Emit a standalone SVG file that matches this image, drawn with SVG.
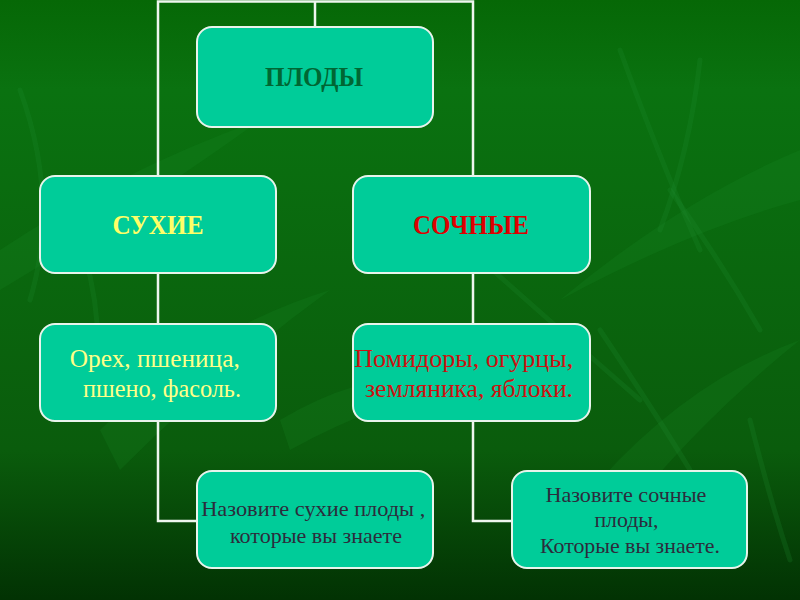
<svg xmlns="http://www.w3.org/2000/svg" width="800" height="600" viewBox="0 0 800 600">
  <defs>
    <linearGradient id="bg" x1="0" y1="0" x2="0" y2="1">
      <stop offset="0" stop-color="#066806"/>
      <stop offset="0.15" stop-color="#0a7210"/>
      <stop offset="0.75" stop-color="#0a5c0c"/>
      <stop offset="1" stop-color="#023203"/>
    </linearGradient>
    <style>
      .box { fill: #00cc99; stroke: #e8f4ec; stroke-width: 2; }
      .conn { fill: none; stroke: #eef6ee; stroke-width: 2.5; }
      .leaf { fill: #1b8a2a; opacity: 0.2; }
      .blade { fill: none; stroke: #1f8f30; stroke-width: 5; opacity: 0.22; stroke-linecap: round; }
      text { font-family: "Liberation Serif", "Times New Roman", serif; text-anchor: middle; }
      .title { font-size: 27px; font-weight: bold; }
      .body { font-size: 26px; }
      .small { font-size: 22px; fill: #2c2c3c; }
      .small2 { font-size: 21px; fill: #2c2c3c; }
    </style>
  </defs>

  <!-- background -->
  <rect width="800" height="600" fill="url(#bg)"/>
  <g id="background-leaves">
    <path class="leaf" d="M0 250 Q120 170 260 120 Q150 200 0 290 Z"/>
    <path class="leaf" d="M100 430 Q200 330 330 290 Q220 370 120 470 Z"/>
    <path class="leaf" d="M800 150 Q680 200 560 300 Q690 230 800 200 Z"/>
    <path class="leaf" d="M600 480 Q690 380 800 340 Q700 420 620 520 Z"/>
    <path class="leaf" d="M280 420 Q380 360 480 380 Q380 400 290 450 Z"/>
    <path class="blade" d="M620 50 Q660 160 700 250"/>
    <path class="blade" d="M670 190 Q720 260 760 330"/>
    <path class="blade" d="M700 60 Q690 150 660 230"/>
    <path class="blade" d="M600 330 Q660 420 690 470"/>
    <path class="blade" d="M20 90 Q60 200 30 300"/>
    <path class="blade" d="M80 240 Q110 330 90 420"/>
    <path class="blade" d="M470 250 Q560 330 640 400"/>
    <path class="blade" d="M750 420 Q770 500 790 560"/>
  </g>

  <!-- connectors -->
  <g id="connectors">
    <path class="conn" d="M315 27 V1.5"/>
    <path class="conn" d="M197 521 H158 V1.5 H473 V521 H512"/>
  </g>

  <!-- nodes -->
  <g id="node-plody">
    <rect class="box" x="197" y="27" width="236" height="100" rx="15"/>
    <text class="title" x="314" y="86" fill="#006633" textLength="98" lengthAdjust="spacingAndGlyphs">ПЛОДЫ</text>
  </g>
  <g id="node-sukhie">
    <rect class="box" x="40" y="176" width="236" height="97" rx="15"/>
    <text class="title" x="158" y="234" fill="#ffff66" textLength="91" lengthAdjust="spacingAndGlyphs">СУХИЕ</text>
  </g>
  <g id="node-sochnye">
    <rect class="box" x="353" y="176" width="237" height="97" rx="15"/>
    <text class="title" x="471" y="234" fill="#dd0000" textLength="116" lengthAdjust="spacingAndGlyphs">СОЧНЫЕ</text>
  </g>
  <g id="node-sukhie-examples">
    <rect class="box" x="40" y="324" width="236" height="97" rx="15"/>
    <text class="body" fill="#ffff88">
      <tspan x="158" y="367" textLength="170" lengthAdjust="spacingAndGlyphs">Орех, пшеница,</tspan>
      <tspan x="162" y="397" textLength="158" lengthAdjust="spacingAndGlyphs">пшено, фасоль.</tspan>
    </text>
  </g>
  <g id="node-sochnye-examples">
    <rect class="box" x="353" y="324" width="237" height="97" rx="15"/>
    <text class="body" fill="#cc1111">
      <tspan x="467" y="367" textLength="219" lengthAdjust="spacingAndGlyphs">Помидоры, огурцы,</tspan>
      <tspan x="469" y="397" textLength="208" lengthAdjust="spacingAndGlyphs">земляника, яблоки.</tspan>
    </text>
  </g>
  <g id="node-sukhie-question">
    <rect class="box" x="197" y="471" width="236" height="97" rx="15"/>
    <text class="small">
      <tspan x="316" y="516" textLength="224" lengthAdjust="spacingAndGlyphs">Назовите сухие плоды ,</tspan>
      <tspan x="316" y="543" textLength="172" lengthAdjust="spacingAndGlyphs">которые вы знаете</tspan>
    </text>
  </g>
  <g id="node-sochnye-question">
    <rect class="box" x="512" y="471" width="235" height="97" rx="15"/>
    <text class="small2">
      <tspan x="628.5" y="502" textLength="161" lengthAdjust="spacingAndGlyphs">Назовите сочные</tspan>
      <tspan x="629" y="527" textLength="64" lengthAdjust="spacingAndGlyphs">плоды,</tspan>
      <tspan x="630" y="553" textLength="180" lengthAdjust="spacingAndGlyphs">Которые вы знаете.</tspan>
    </text>
  </g>
</svg>
